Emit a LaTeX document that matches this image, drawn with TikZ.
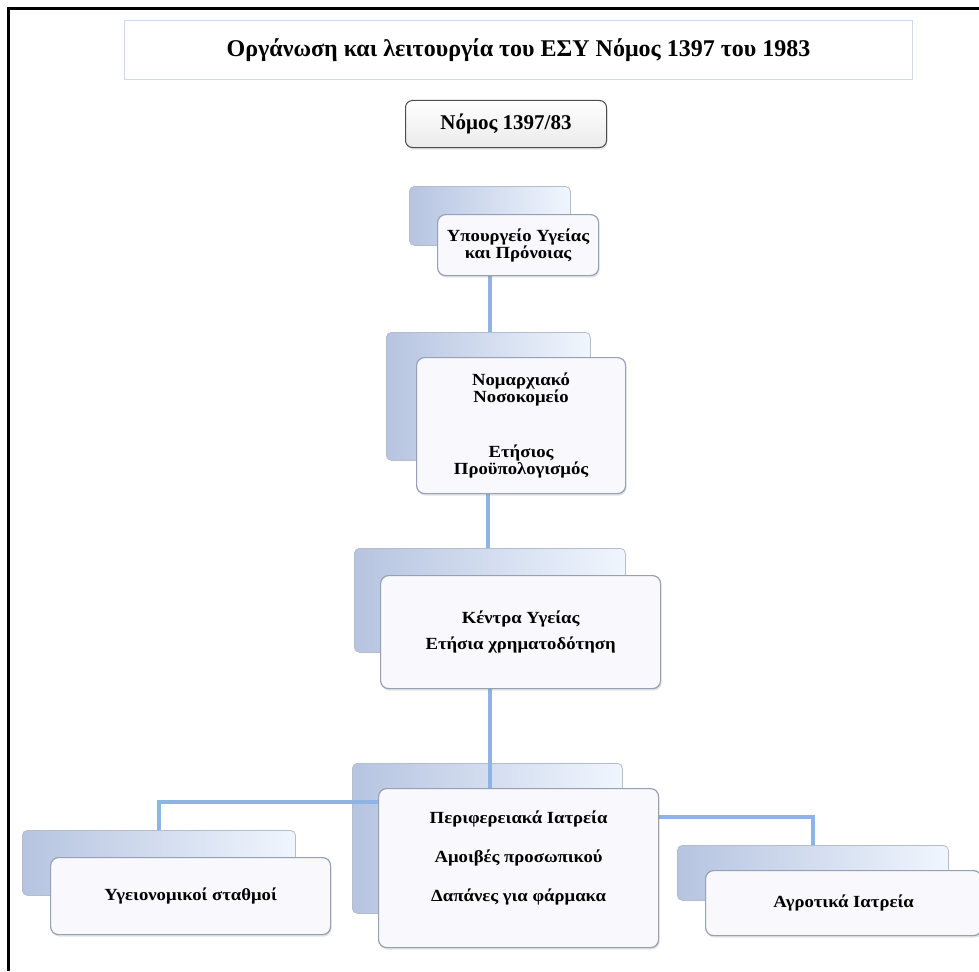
\documentclass[tikz,border=0pt]{standalone}
\usepackage{fontspec}
\setmainfont{Liberation Serif}
\newfontfamily\boxfont{Liberation Serif}[FakeStretch=1.1]
\usepackage{tikz}
\usetikzlibrary{positioning,shadows}
\definecolor{linkblue}{RGB}{141,180,226}
\definecolor{backleft}{RGB}{182,196,224}
\definecolor{backmid}{RGB}{222,232,248}
\definecolor{backright}{RGB}{240,246,254}
\definecolor{boxedge}{RGB}{150,160,182}
\definecolor{frontfill}{RGB}{249,248,252}
\definecolor{titleedge}{RGB}{205,218,238}

\begin{document}
\begin{tikzpicture}[
    x=1pt,y=-1pt,
    titlebox/.style={draw=titleedge,line width=1pt,fill=white,anchor=north west,font=\bfseries\fontsize{24}{28}\selectfont},
    lawbox/.style={draw=black!70,line width=1pt,rounded corners=7pt,top color=white,bottom color=black!8,anchor=north west,font=\bfseries\fontsize{21}{24}\selectfont,drop shadow={opacity=0.2,shadow xshift=1pt,shadow yshift=-2pt}},
    backbox/.style={draw=boxedge!70,line width=0.8pt,rounded corners=5pt,left color=backleft,middle color=backmid,right color=backright,anchor=north west,inner sep=0pt},
    frontbox/.style={draw=boxedge,line width=1.2pt,rounded corners=8pt,fill=frontfill,anchor=north west,align=center,font=\boxfont\bfseries\fontsize{17}{17}\selectfont,drop shadow={opacity=0.22,shadow xshift=1pt,shadow yshift=-2pt}},
    link/.style={draw=linkblue,line width=4pt}
  ]
    \useasboundingbox (0,0) rectangle (979,971);
    \draw[line width=3pt] (8,971) -- (8,8.5) -- (979,8.5);

    \node[titlebox,minimum width=788,minimum height=59] (title) at (124,20) {Οργάνωση και λειτουργία του ΕΣΥ Νόμος 1397 του 1983};
    \node[lawbox,minimum width=201,minimum height=47] (law) at (405,100) {Νόμος 1397/83};

    % back boxes
    \node[backbox,minimum width=161,minimum height=59] (min-back) at (409,186) {};
    \node[backbox,minimum width=204,minimum height=128] (nom-back) at (386,332) {};
    \node[backbox,minimum width=271,minimum height=104] (ky-back) at (354,548) {};
    \node[backbox,minimum width=270,minimum height=150] (per-back) at (352,763) {};
    \node[backbox,minimum width=273,minimum height=65] (ys-back) at (22,830) {};
    \node[backbox,minimum width=271,minimum height=55] (ai-back) at (677,845) {};

    % links
    \draw[link] (min-back.south) -- (min-back.south |- nom-back.north);
    \draw[link] (nom-back.south) -- (nom-back.south |- ky-back.north);
    \draw[link] (ky-back.south) -- (ky-back.south |- per-back.center);
    \draw[link] (per-back.north) ++(0,39) -| (ys-back.north);
    \draw[link] (per-back.north) ++(0,54) -| (ai-back.north);

    % front boxes
    \node[frontbox,minimum width=161,minimum height=61] (min) at (437,214) {Υπουργείο Υγείας\\και Πρόνοιας};
    \node[frontbox,minimum width=209,minimum height=136] (nom) at (416,357) {Νομαρχιακό\\Νοσοκομείο\\[38pt]Ετήσιος\\Προϋπολογισμός};
    \node[frontbox,minimum width=280,minimum height=113] (ky) at (380,575) {Κέντρα Υγείας\\[9pt]Ετήσια χρηματοδότηση};
    \node[frontbox,minimum width=280,minimum height=159,text depth=24pt] (per) at (378,788) {Περιφερειακά Ιατρεία\\[22pt]Αμοιβές προσωπικού\\[22pt]Δαπάνες για φάρμακα};
    \node[frontbox,minimum width=280,minimum height=77] (ys) at (50,857) {Υγειονομικοί σταθμοί};
    \node[frontbox,minimum width=276,minimum height=65] (ai) at (705,870) {Αγροτικά Ιατρεία};
\end{tikzpicture}
\end{document}
